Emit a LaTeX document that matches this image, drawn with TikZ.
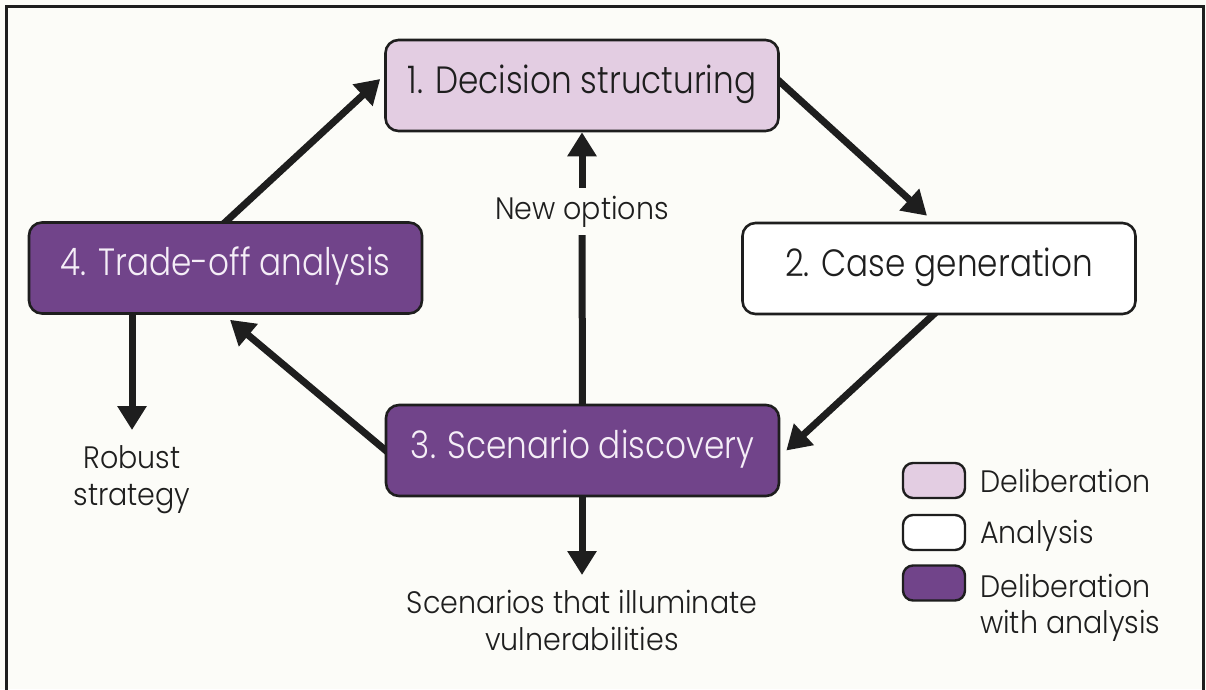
\documentclass[tikz,border=0pt]{standalone}
\usepackage{fontspec}
\setmainfont{Poppins}[UprightFont={* Light}, FakeStretch=0.92]
\newfontfamily\stagefont{Poppins}[UprightFont={* Light}, FakeStretch=0.86]
\usetikzlibrary{arrows.meta}
\pgfdeclarelayer{paper}
\pgfdeclarelayer{back}
\pgfsetlayers{paper,back,main}

\definecolor{bg}{HTML}{FCFCF8}
\definecolor{lav}{HTML}{E3CDE2}
\definecolor{plum}{HTML}{71448A}
\definecolor{ink}{HTML}{1E1E1E}
\definecolor{pale}{HTML}{F5EEF7}

\tikzset{
  stage/.style={draw=ink, line width=2.6pt, rounded corners=13pt,
    minimum width=393pt, minimum height=91pt, inner sep=0pt,
    font=\stagefont\fontsize{38}{44}\selectfont, text height=27pt, text depth=12pt},
  delib/.style={stage, fill=lav, text=ink},
  anal/.style={stage, fill=white, text=ink},
  both/.style={stage, fill=plum, text=pale},
  flow/.style={draw=ink, line width=7pt, -{Triangle[length=24pt,width=28pt]}},
  plain/.style={draw=ink, line width=7pt},
  note/.style={font=\fontsize{31}{37}\selectfont, text=ink, align=center, inner xsep=0pt},
  swatch/.style={draw=ink, line width=2.4pt, rounded corners=10pt,
    minimum width=62pt, minimum height=35pt, inner sep=0pt},
  key/.style={font=\fontsize{31}{37}\selectfont, text=ink, anchor=base west, inner sep=0pt},
}

\begin{document}
\begin{tikzpicture}[x=1pt, y=-1pt]
  \useasboundingbox (0,0) rectangle (1206,689);
  \begin{pgfonlayer}{paper}
    \fill[bg] (0,0) rectangle (1206,689);
    \draw[ink, line width=3pt] (6,6) rectangle (1203,700);
  \end{pgfonlayer}

  % the four stages
  \node[delib] (b1) at (582,85.5)   {1. Decision structuring};
  \node[anal]  (b2) at (939,268.5)  {2. Case generation};
  \node[both]  (b3) at (582.5,450.5){3. Scenario discovery};
  \node[both]  (b4) at (225.5,268)  {4. Trade-off analysis};

  % outputs and the feedback label
  \node[note, anchor=base, text height=31pt, text depth=16pt, inner ysep=0pt]
       (newopt) at (582,219) {New options};
  \node[note, anchor=north, inner ysep=15pt] (robust) at (132,430) {Robust\\strategy};
  \node[note, anchor=north, inner ysep=15pt] (scen) at (582,575)
       {Scenarios that illuminate\\vulnerabilities};

  % connectors
  \begin{pgfonlayer}{back}
    \draw[flow] ([xshift=-3.5pt,yshift=-4pt]b4.north) -- ([xshift=-4pt,yshift=6.5pt]b1.west);
    \draw[flow] ([xshift=-4pt,yshift=7.5pt]b1.east) -- ([xshift=-12pt,yshift=6pt]b2.north);
    \draw[flow] ([xshift=-2pt,yshift=4pt]b2.south) -- ([xshift=6pt]b3.east);
    \draw[flow] ([xshift=4pt,yshift=-2.5pt]b3.west) -- ([xshift=4.5pt,yshift=-5pt]b4.south);
    \draw[plain] ([yshift=-4pt]b3.north) -- (newopt.south);
    \draw[flow] (newopt.north) -- (b1.south);
    \draw[flow] ([xshift=-93.5pt,yshift=4pt]b4.south) -- (robust.north);
    \draw[flow] ([xshift=-0.5pt,yshift=4pt]b3.south) -- (scen.north);
  \end{pgfonlayer}

  % legend
  \node[swatch, fill=lav]   (k1) at (934,480.5) {};
  \node[swatch, fill=white] (k2) at (934,532.5) {};
  \node[swatch, fill=plum]  (k3) at (934,583)   {};
  \node[key] (t1)  at (980,492) {Deliberation};
  \node[key] (t2)  at (980,543) {Analysis};
  \node[key] (t3a) at (980,597) {Deliberation};
  \node[key] (t3b) at (980,633) {with analysis};
\end{tikzpicture}
\end{document}
